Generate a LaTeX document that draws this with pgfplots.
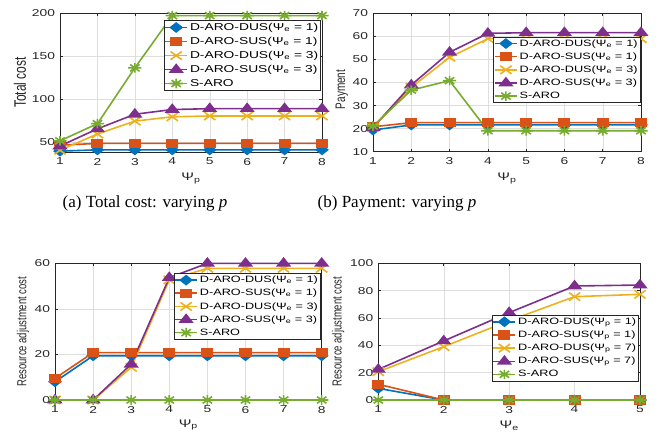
\documentclass[border=0pt]{standalone}
\usepackage{fontspec}
\setmainfont{Liberation Sans}[FakeStretch=1.38]
\newfontfamily\plainsans{Liberation Sans}
\newfontfamily\capfont{Liberation Serif}
\usepackage{pgfplots}
\pgfplotsset{compat=1.18}

\definecolor{mb}{rgb}{0,0.447,0.741}
\definecolor{mr}{rgb}{0.85,0.325,0.098}
\definecolor{my}{rgb}{0.929,0.694,0.125}
\definecolor{mp}{rgb}{0.494,0.184,0.556}
\definecolor{mg}{rgb}{0.466,0.674,0.188}
\definecolor{axc}{rgb}{0.15,0.15,0.15}

\pgfdeclareplotmark{mstar}{%
  \pgfpathmoveto{\pgfqpoint{0pt}{\pgfplotmarksize}}\pgfpathlineto{\pgfqpoint{0pt}{-\pgfplotmarksize}}%
  \pgfpathmoveto{\pgfqpoint{\pgfplotmarksize}{0pt}}\pgfpathlineto{\pgfqpoint{-\pgfplotmarksize}{0pt}}%
  \pgfpathmoveto{\pgfqpoint{.7071\pgfplotmarksize}{.7071\pgfplotmarksize}}\pgfpathlineto{\pgfqpoint{-.7071\pgfplotmarksize}{-.7071\pgfplotmarksize}}%
  \pgfpathmoveto{\pgfqpoint{.7071\pgfplotmarksize}{-.7071\pgfplotmarksize}}\pgfpathlineto{\pgfqpoint{-.7071\pgfplotmarksize}{.7071\pgfplotmarksize}}%
  \pgfusepathqstroke}

\pgfplotsset{
  mystyle/.style={
    scale only axis, anchor=south west,
    axis line style={axc, line width=0.5pt},
    grid=major, major grid style={black!13, line width=0.4pt},
    tick align=inside, major tick length=3pt, tick style={axc, line width=0.5pt},
    clip=false,
    /pgf/number format/assume math mode=true,
    tick label style={font=\fontsize{10}{12}\selectfont, text=axc},
    xticklabel shift=2.5pt, yticklabel shift=1.5pt,
    legend cell align=left,
    legend image code/.code={\draw[mark repeat=2,mark phase=2] plot coordinates {(0pt,0pt) (11pt,0pt) (22pt,0pt)};},
    legend style={draw=axc, line width=0.5pt, fill=white, inner sep=0.5pt, row sep=1pt, text=black},
    every axis plot/.append style={line width=1.6pt},
    xlabel style={font=\fontsize{11}{13}\selectfont, text=axc, anchor=center},
    ylabel style={rotate=0, yscale=1.38, text=axc, anchor=center},
  },
  sb/.style={mb, mark=diamond*, mark size=4.4pt, mark options={xscale=1.7, fill=mb}},
  sr/.style={mr, mark=square*, mark size=3.8pt, mark options={xscale=1.38, fill=mr}},
  sy/.style={my, mark=x, mark size=5.8pt, mark options={xscale=1.38}},
  sp/.style={mp, mark=triangle*, mark size=5pt, mark options={xscale=1.38, fill=mp}},
  sg/.style={mg, mark=mstar, mark size=4.8pt, mark options={xscale=1.38}},
}

\begin{document}
\begin{tikzpicture}
\useasboundingbox (0pt,0pt) rectangle (659pt,434pt);

% (a) Total cost
\begin{axis}[mystyle, at={(60pt,282pt)}, width=262pt, height=139pt,
  xmin=1, xmax=8, xtick={1,...,8}, ymin=38, ymax=200, ytick={50,100,150,200},
  xlabel={Ψ\textsubscript{p}}, ylabel={Total cost},
  xlabel style={at={(axis description cs:0.5,-0.19)}},
  ylabel style={at={(axis description cs:-0.153,0.5)}, font=\plainsans\fontsize{12}{14}\selectfont},
  legend style={at={(axis description cs:0.996,0.947)}, anchor=north east, font=\fontsize{10}{12}\selectfont, row sep=1.3pt}]
\addplot[sb] coordinates {(1,39) (2,40.5) (3,40.5) (4,40.5) (5,40.5) (6,40.5) (7,40.5) (8,40.5)};
\addplot[sr] coordinates {(1,46) (2,48) (3,48) (4,48) (5,48) (6,48) (7,48) (8,48)};
\addplot[sy] coordinates {(1,40) (2,59) (3,74) (4,79) (5,80) (6,80) (7,80) (8,80)};
\addplot[sp] coordinates {(1,45) (2,65) (3,82) (4,87.5) (5,88.5) (6,88.5) (7,88.5) (8,88.5)};
\addplot[sg] coordinates {(1,51) (2,71) (3,136) (4,197) (5,197) (6,197) (7,197) (8,197)};
\legend{D-ARO-DUS(Ψ\textsubscript{e} = 1),D-ARO-SUS(Ψ\textsubscript{e} = 1),D-ARO-DUS(Ψ\textsubscript{e} = 3),D-ARO-SUS(Ψ\textsubscript{e} = 3),S-ARO}
\end{axis}

% (b) Payment
\begin{axis}[mystyle, at={(373pt,282.3pt)}, width=268pt, height=138.4pt,
  xmin=1, xmax=8, xtick={1,...,8}, ymin=10, ymax=70, ytick={10,20,...,70},
  xlabel={Ψ\textsubscript{p}}, ylabel={Payment},
  xlabel style={at={(axis description cs:0.5,-0.195)}},
  ylabel style={at={(axis description cs:-0.116,0.45)}, font=\plainsans\fontsize{10}{12}\selectfont},
  legend style={at={(axis description cs:0.998,0.831)}, anchor=north east, font=\fontsize{9.2}{11}\selectfont}]
\addplot[sb] coordinates {(1,19.4) (2,21.6) (3,21.6) (4,21.6) (5,21.6) (6,21.6) (7,21.6) (8,21.6)};
\addplot[sr] coordinates {(1,20.8) (2,22.6) (3,22.6) (4,22.6) (5,22.6) (6,22.6) (7,22.6) (8,22.6)};
\addplot[sy] coordinates {(1,20.5) (2,37.9) (3,50.9) (4,59) (5,59) (6,59) (7,59) (8,59)};
\addplot[sp] coordinates {(1,20.5) (2,38.9) (3,53.1) (4,61.3) (5,61.6) (6,61.6) (7,61.6) (8,61.6)};
\addplot[sg] coordinates {(1,21.1) (2,36.7) (3,40.8) (4,19.1) (5,19.1) (6,19.1) (7,19.1) (8,19.1)};
\legend{D-ARO-DUS(Ψ\textsubscript{e} = 1),D-ARO-SUS(Ψ\textsubscript{e} = 1),D-ARO-DUS(Ψ\textsubscript{e} = 3),D-ARO-SUS(Ψ\textsubscript{e} = 3),S-ARO}
\end{axis}

% (c) Resource adjustment cost vs p
\begin{axis}[mystyle, at={(55pt,34pt)}, width=266.7pt, height=136.7pt,
  xmin=1, xmax=8, xtick={1,...,8}, ymin=0, ymax=60, ytick={0,20,40,60},
  xlabel={Ψ\textsubscript{p}}, ylabel={Resource adjustment cost},
  xlabel style={at={(axis description cs:0.5,-0.249)}, anchor=south},
  ylabel style={at={(axis description cs:-0.12,0.5)}, font=\plainsans\fontsize{9.5}{11}\selectfont},
  legend style={at={(axis description cs:0.996,0.927)}, anchor=north east, font=\fontsize{9.2}{11}\selectfont}]
\addplot[sb] coordinates {(1,8) (2,19.4) (3,19.4) (4,19.4) (5,19.4) (6,19.4) (7,19.4) (8,19.4)};
\addplot[sr] coordinates {(1,9.5) (2,20.8) (3,20.8) (4,20.8) (5,20.8) (6,20.8) (7,20.8) (8,20.8)};
\addplot[sy] coordinates {(1,0) (2,0) (3,14.3) (4,52.7) (5,57.8) (6,57.8) (7,57.8) (8,57.8)};
\addplot[sp] coordinates {(1,0) (2,0) (3,15.7) (4,53.7) (5,60) (6,60) (7,60) (8,60)};
\addplot[sg] coordinates {(1,0) (2,0) (3,0) (4,0) (5,0) (6,0) (7,0) (8,0)};
\legend{D-ARO-DUS(Ψ\textsubscript{e} = 1),D-ARO-SUS(Ψ\textsubscript{e} = 1),D-ARO-DUS(Ψ\textsubscript{e} = 3),D-ARO-SUS(Ψ\textsubscript{e} = 3),S-ARO}
\end{axis}

% (d) Resource adjustment cost vs e
\begin{axis}[mystyle, at={(378.3pt,34pt)}, width=261.7pt, height=136.7pt,
  xmin=1, xmax=5, xtick={1,...,5}, ymin=0, ymax=100, ytick={0,20,...,100},
  xlabel={Ψ\textsubscript{e}}, ylabel={Resource adjustment cost},
  xlabel style={at={(axis description cs:0.5,-0.19)}},
  ylabel style={at={(axis description cs:-0.153,0.5)}, font=\plainsans\fontsize{9.5}{11}\selectfont},
  legend style={at={(axis description cs:0.996,0.622)}, anchor=north east, font=\fontsize{9.2}{11}\selectfont}]
\addplot[sb] coordinates {(1,8.5) (2,0) (3,0) (4,0) (5,0)};
\addplot[sr] coordinates {(1,11.5) (2,0) (3,0) (4,0) (5,0)};
\addplot[sy] coordinates {(1,20.7) (2,39) (3,58) (4,75.6) (5,77.3)};
\addplot[sp] coordinates {(1,22.4) (2,43.2) (3,63.9) (4,83.4) (5,84.1)};
\addplot[sg] coordinates {(1,0) (2,0) (3,0) (4,0) (5,0)};
\legend{D-ARO-DUS(Ψ\textsubscript{p} = 1),D-ARO-SUS(Ψ\textsubscript{p} = 1),D-ARO-DUS(Ψ\textsubscript{p} = 7),D-ARO-SUS(Ψ\textsubscript{p} = 7),S-ARO}
\end{axis}

\node[font=\capfont\fontsize{17}{20}\selectfont, anchor=center] at (145pt,231pt) {(a) Total cost: varying \textit{p}};
\node[font=\capfont\fontsize{17}{20}\selectfont, anchor=center] at (397pt,231pt) {(b) Payment: varying \textit{p}};
\end{tikzpicture}
\end{document}
